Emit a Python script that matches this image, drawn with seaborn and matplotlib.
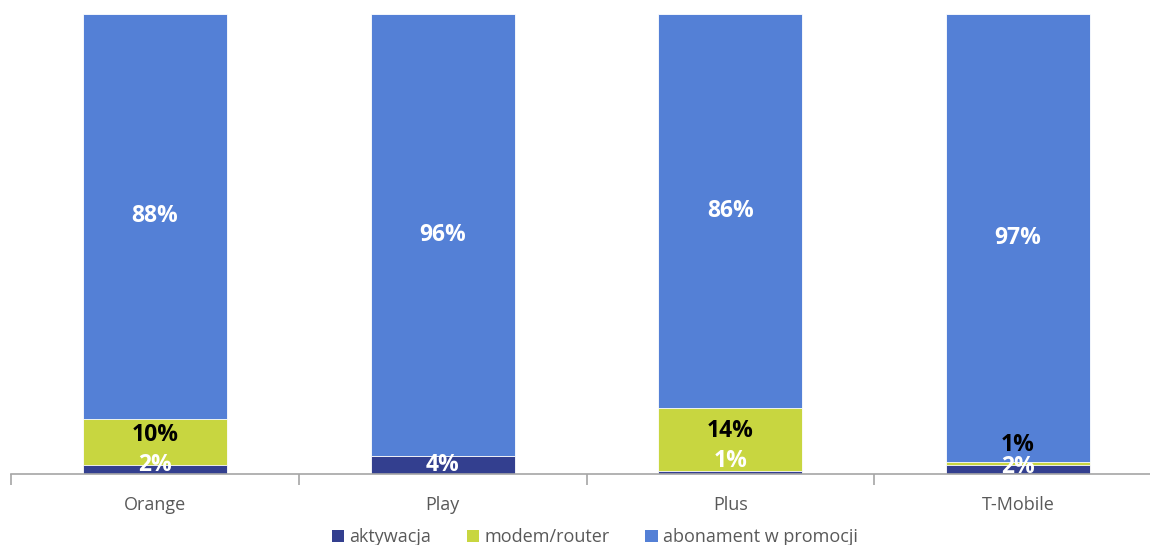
import numpy as np
import pandas as pd
import matplotlib
matplotlib.use("Agg")
import matplotlib.pyplot as plt
from matplotlib.patches import Patch
import seaborn as sns

# Values (shares in %)
operators = ["Orange", "Play", "Plus", "T-Mobile"]
aktywacja = [2.0, 4.0, 0.6, 1.9]
modem_router = [10.0, 0.0, 13.7, 0.8]
abonament = [88.0, 96.0, 85.7, 97.3]

series_names = ["aktywacja", "modem/router", "abonament w promocji"]
colors = ["#333F8F", "#C8D640", "#5480D6"]
label_colors = ["white", "black", "white"]

sns.set_theme(style="white")
plt.rcParams["font.family"] = ["Open Sans", "DejaVu Sans"]

df = pd.DataFrame({"operator": operators, "akt": aktywacja,
                   "modem": modem_router, "abon": abonament})
df["cum1"] = df["akt"]
df["cum2"] = df["cum1"] + df["modem"]
df["cum3"] = df["cum2"] + df["abon"]

fig = plt.figure(figsize=(11.5, 5.45), dpi=100)
ax = fig.add_axes([0.0097, 0.1303, 1.0007, 0.844])

# stacked bars by overlaying cumulative totals, biggest first
for col, c in zip(["cum3", "cum2", "cum1"], colors[::-1]):
    sns.barplot(data=df, x="operator", y=col, color=c, width=0.5,
                edgecolor="white", linewidth=0.6, saturation=1, ax=ax)

# data labels (small segments nudged like in the original)
offsets = {  # (series index, bar index): vertical shift in data units
    (0, 0): 1.0, (0, 2): 2.5, (0, 3): 0.5,
    (1, 0): 1.5, (1, 2): 2.0, (1, 3): 4.0,
}
series_vals = [aktywacja, modem_router, abonament]
for si, vals in enumerate(series_vals):
    for bi, v in enumerate(vals):
        if v <= 0:
            continue
        bottom = sum(series_vals[k][bi] for k in range(si))
        y = bottom + v / 2 + offsets.get((si, bi), 0)
        ax.text(bi, y, f"{round(v):.0f}%", ha="center", va="center",
                fontsize=16.5, fontweight="bold", color=label_colors[si])

ax.set_ylim(0, 100)
ax.set_xlim(-0.5, 3.5)
ax.set_yticks([])
ax.set_xlabel("")
ax.set_ylabel("")
for s in ["top", "right", "left"]:
    ax.spines[s].set_visible(False)
ax.spines["bottom"].set_color("#A6A6A6")
ax.spines["bottom"].set_linewidth(1.2)

ax.set_xticks(np.arange(-0.5, 4, 1), minor=True)
ax.tick_params(axis="x", which="minor", bottom=True, length=8,
               color="#A6A6A6", width=1.2)
ax.tick_params(axis="x", which="major", bottom=False, labelsize=13,
               labelcolor="#595959", pad=10)

handles = [Patch(facecolor=c, edgecolor="none") for c in colors]
fig.legend(handles, series_names, loc="lower center", ncol=3,
           bbox_to_anchor=(0.517, -0.032), frameon=False, fontsize=13,
           labelcolor="#595959", handlelength=0.7, handleheight=0.7,
           handletextpad=0.25, columnspacing=2.0)

fig.savefig("out.png", dpi=100)
